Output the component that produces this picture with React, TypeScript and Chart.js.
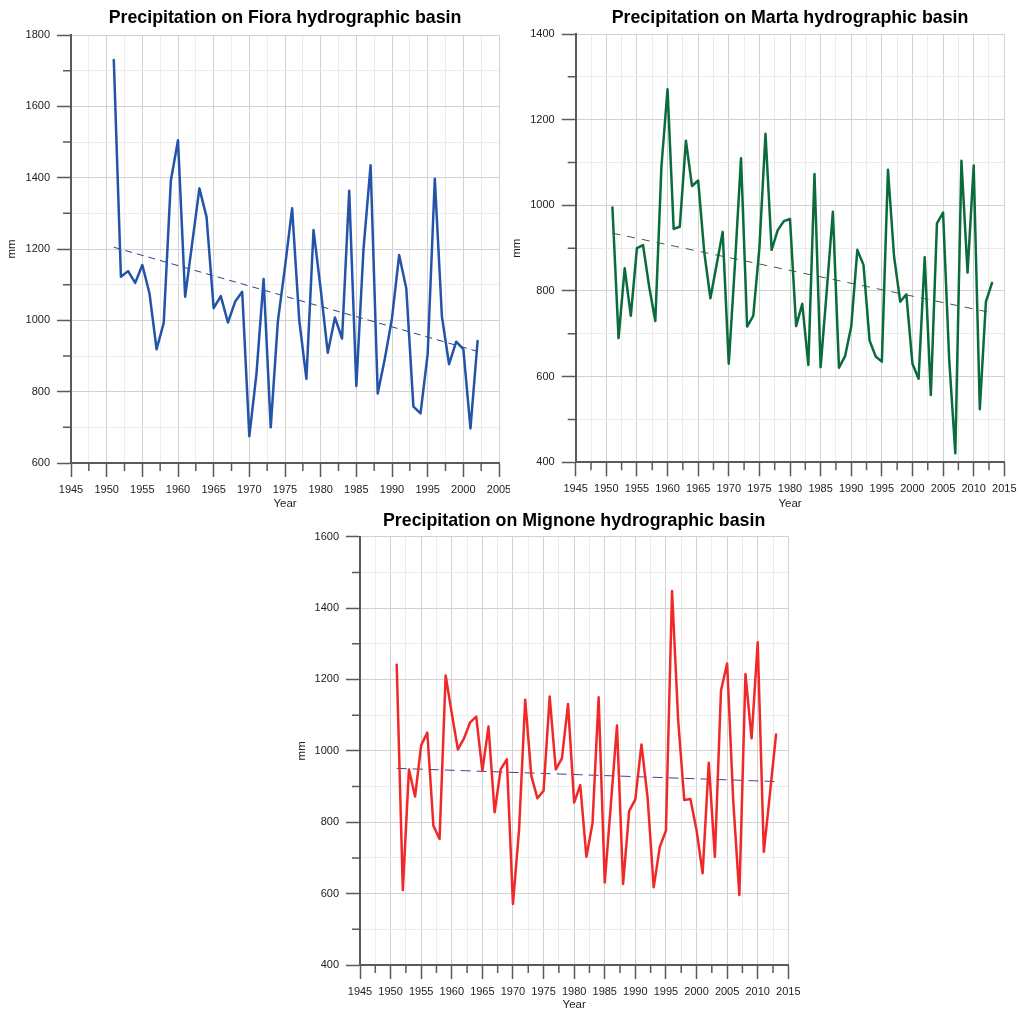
import React, { useEffect, useRef } from 'react';
import { Chart, registerables } from 'chart.js';

Chart.register(...registerables);

const FONT = "'Liberation Sans', Arial, Helvetica, sans-serif";
const AXIS = '#5a5a5a';
const TEXT = '#222222';
const GRID_MAJOR = '#d2d2d2';
const GRID_MINOR = '#ececec';

// ---------- data ----------
const fioraYears = [
  1951, 1952, 1953, 1954, 1955, 1956, 1957, 1958, 1959, 1960,
  1961, 1962, 1963, 1964, 1965, 1966, 1967, 1968, 1969, 1970,
  1971, 1972, 1973, 1974, 1975, 1976, 1977, 1978, 1979, 1980,
  1981, 1982, 1983, 1984, 1985, 1986, 1987, 1988, 1989, 1990,
  1991, 1992, 1993, 1994, 1995, 1996, 1997, 1998, 1999, 2000,
  2001, 2002,
];
const fioraValues = [
  1730, 1122, 1138, 1105, 1155, 1076, 919, 993, 1392, 1505,
  1066, 1218, 1370, 1290, 1034, 1068, 994, 1052, 1080, 675,
  850, 1116, 700, 997, 1150, 1314, 1000, 836, 1253, 1088,
  909, 1008, 949, 1363, 816, 1198, 1435, 795, 893, 1006,
  1183, 1090, 758, 739, 905, 1397, 1010, 877, 940, 919,
  697, 942,
];
const fioraTrendYears = [1951, 2002];
const fioraTrendValues = [1205, 913];

const martaMignoneYears = [
  1951, 1952, 1953, 1954, 1955, 1956, 1957, 1958, 1959, 1960,
  1961, 1962, 1963, 1964, 1965, 1966, 1967, 1968, 1969, 1970,
  1971, 1972, 1973, 1974, 1975, 1976, 1977, 1978, 1979, 1980,
  1981, 1982, 1983, 1984, 1985, 1986, 1987, 1988, 1989, 1990,
  1991, 1992, 1993, 1994, 1995, 1996, 1997, 1998, 1999, 2000,
  2001, 2002, 2003, 2004, 2005, 2006, 2007, 2008, 2009, 2010,
  2011, 2012, 2013,
];
const martaValues = [
  995, 690, 853, 742, 900, 907, 810, 730, 1090, 1271,
  945, 950, 1151, 1045, 1058, 890, 783, 860, 938, 630,
  860, 1110, 717, 742, 900, 1167, 896, 942, 963, 968,
  718, 770, 627, 1073, 622, 800, 985, 621, 648, 717,
  896, 861, 684, 647, 635, 1083, 880, 775, 792, 630,
  595, 879, 557, 958, 983, 640, 421, 1104, 843, 1093,
  524, 775, 819,
];
const martaTrendYears = [1951, 2013];
const martaTrendValues = [935, 749];

const mignoneValues = [
  1241, 610, 948, 872, 1016, 1051, 790, 753, 1211, 1105,
  1004, 1035, 1080, 1096, 944, 1068, 828, 949, 976, 571,
  780, 1143, 930, 867, 888, 1152, 948, 979, 1131, 855,
  904, 703, 797, 1150, 631, 850, 1071, 627, 832, 864,
  1018, 870, 618, 731, 776, 1448, 1086, 862, 865, 778,
  657, 967, 703, 1169, 1245, 860, 596, 1215, 1035, 1304,
  717, 880, 1046,
];
const mignoneTrendYears = [1951, 2013];
const mignoneTrendValues = [951, 914];

const fioraYRange = [600, 1800];
const martaYRange = [400, 1400];
const mignoneYRange = [400, 1600];
const fioraXRange = [1945, 2005];
const martaXRange = [1945, 2015];
const mignoneXRange = [1945, 2015];

// ---------- layout ----------
type Panel = {
  id: string;
  title: string;
  years: number[];
  values: number[];
  trendYears: number[];
  trendValues: number[];
  xRange: number[];
  yRange: number[];
  color: string;
  trendColor: string;
  dash: number[];
  canvas: { left: number; top: number; w: number; h: number };
  area: { l: number; t: number; r: number; b: number };
  titleY: number;
  yearY: number;
};

const panels: Panel[] = [
  {
    id: 'fiora',
    title: 'Precipitation on Fiora hydrographic basin',
    years: fioraYears,
    values: fioraValues,
    trendYears: fioraTrendYears,
    trendValues: fioraTrendValues,
    xRange: fioraXRange,
    yRange: fioraYRange,
    color: 'rgb(36, 84, 168)',
    trendColor: 'rgb(50, 60, 140)',
    dash: [7, 5],
    canvas: { left: 0, top: 0, w: 510, h: 515 },
    area: { l: 71, t: 35, r: 499, b: 463 },
    titleY: 18.5,
    yearY: 504,
  },
  {
    id: 'marta',
    title: 'Precipitation on Marta hydrographic basin',
    years: martaMignoneYears,
    values: martaValues,
    trendYears: martaTrendYears,
    trendValues: martaTrendValues,
    xRange: martaXRange,
    yRange: martaYRange,
    color: 'rgb(10, 108, 60)',
    trendColor: 'rgb(80, 80, 80)',
    dash: [8, 7],
    canvas: { left: 505, top: 0, w: 514, h: 515 },
    area: { l: 575.7, t: 34, r: 1004.3, b: 462.3 },
    titleY: 18,
    yearY: 503.5,
  },
  {
    id: 'mignone',
    title: 'Precipitation on Mignone hydrographic basin',
    years: martaMignoneYears,
    values: mignoneValues,
    trendYears: mignoneTrendYears,
    trendValues: mignoneTrendValues,
    xRange: mignoneXRange,
    yRange: mignoneYRange,
    color: 'rgb(240, 40, 40)',
    trendColor: 'rgb(60, 70, 150)',
    dash: [10, 6],
    canvas: { left: 290, top: 500, w: 510, h: 510 },
    area: { l: 360, t: 536.7, r: 788.3, b: 965 },
    titleY: 521,
    yearY: 1004.5,
  },
];

const isMajorX = (v: number) => Math.abs(v / 5 - Math.round(v / 5)) < 1e-6;
const isMajorY = (v: number) => Math.abs(v / 200 - Math.round(v / 200)) < 1e-6;

const minorTicksPlugin = {
  id: 'minorTicks',
  afterDraw(chart: any) {
    const ctx = chart.ctx;
    const xs = chart.scales.x;
    const ys = chart.scales.y;
    const area = chart.chartArea;
    ctx.save();
    ctx.strokeStyle = AXIS;
    ctx.lineWidth = 1.5;
    ctx.beginPath();
    xs.ticks.forEach((t: any) => {
      if (!isMajorX(t.value)) {
        const px = xs.getPixelForValue(t.value);
        ctx.moveTo(px, area.bottom);
        ctx.lineTo(px, area.bottom + 8);
      }
    });
    ys.ticks.forEach((t: any) => {
      if (!isMajorY(t.value)) {
        const py = ys.getPixelForValue(t.value);
        ctx.moveTo(area.left, py);
        ctx.lineTo(area.left - 8, py);
      }
    });
    ctx.stroke();
    ctx.restore();
  },
};

function PanelChart({ cfg }: { cfg: Panel }) {
  const ref = useRef<HTMLCanvasElement>(null);
  useEffect(() => {
    const c = cfg;
    const titleSize = 17.8;
    const titleLH = titleSize * 1.2;
    const tPadTop = c.titleY - c.canvas.top - titleLH / 2;
    const tPadBottom = c.area.t - c.canvas.top - tPadTop - titleLH;
    const yW = c.area.l - c.canvas.left;
    const xH = c.canvas.top + c.canvas.h - c.area.b;
    const padRight = c.canvas.left + c.canvas.w - c.area.r;
    const axisTitleSize = 11.5;
    const yearPadBottom = c.canvas.top + c.canvas.h - c.yearY - axisTitleSize / 2;

    const chart = new Chart(ref.current as HTMLCanvasElement, {
      type: 'line',
      data: {
        datasets: [
          {
            data: c.years.map((x, i) => ({ x, y: c.values[i] })),
            borderColor: c.color,
            borderWidth: 2.5,
            borderJoinStyle: 'round',
            borderCapStyle: 'round',
            pointRadius: 0,
            tension: 0,
            fill: false,
            order: 1,
          },
          {
            data: c.trendYears.map((x, i) => ({ x, y: c.trendValues[i] })),
            borderColor: c.trendColor,
            borderWidth: 1,
            borderDash: c.dash,
            pointRadius: 0,
            tension: 0,
            fill: false,
            order: 2,
          },
        ],
      },
      options: {
        responsive: false,
        animation: false,
        devicePixelRatio: 1,
        layout: { padding: { left: 0, right: padRight, top: 0, bottom: 0 } },
        plugins: {
          legend: { display: false },
          tooltip: { enabled: false },
          title: {
            display: true,
            text: c.title,
            fullSize: false,
            color: '#000000',
            font: { family: FONT, size: titleSize, weight: 'bold', lineHeight: 1.2 },
            padding: { top: tPadTop, bottom: tPadBottom },
          },
        },
        scales: {
          x: {
            type: 'linear',
            min: c.xRange[0],
            max: c.xRange[1],
            ticks: {
              stepSize: 2.5,
              autoSkip: false,
              maxRotation: 0,
              minRotation: 0,
              padding: 6,
              color: TEXT,
              font: { family: FONT, size: 11 },
              callback: (v: any) => (isMajorX(Number(v)) ? String(Math.round(Number(v))) : ''),
            },
            grid: {
              color: (ctx: any) => (ctx.tick && isMajorX(ctx.tick.value) ? GRID_MAJOR : GRID_MINOR),
              lineWidth: 1,
              tickLength: 14,
              tickWidth: 1.5,
              tickColor: (ctx: any) => (ctx.tick && isMajorX(ctx.tick.value) ? AXIS : 'rgba(0,0,0,0)'),
            },
            border: { color: AXIS, width: 2 },
            title: {
              display: true,
              text: 'Year',
              color: TEXT,
              font: { family: FONT, size: axisTitleSize, lineHeight: 1 },
              padding: { top: 0, bottom: yearPadBottom },
            },
            afterFit: (s: any) => {
              s.height = xH;
              s.paddingLeft = 0;
              s.paddingRight = 0;
            },
          },
          y: {
            type: 'linear',
            min: c.yRange[0],
            max: c.yRange[1],
            ticks: {
              stepSize: 100,
              autoSkip: false,
              padding: 7,
              color: TEXT,
              font: { family: FONT, size: 11 },
              callback: (v: any) => (isMajorY(Number(v)) ? String(Math.round(Number(v))) : ''),
            },
            grid: {
              color: (ctx: any) => (ctx.tick && isMajorY(ctx.tick.value) ? GRID_MAJOR : GRID_MINOR),
              lineWidth: 1,
              tickLength: 14,
              tickWidth: 1.5,
              tickColor: (ctx: any) => (ctx.tick && isMajorY(ctx.tick.value) ? AXIS : 'rgba(0,0,0,0)'),
            },
            border: { color: AXIS, width: 2 },
            title: {
              display: true,
              text: 'mm',
              color: TEXT,
              font: { family: FONT, size: axisTitleSize, lineHeight: 1 },
              padding: { top: 12 - axisTitleSize / 2, bottom: 0 },
            },
            afterFit: (s: any) => {
              s.width = yW;
              s.paddingTop = 0;
              s.paddingBottom = 0;
            },
          },
        },
      },
      plugins: [minorTicksPlugin],
    } as any);
    return () => chart.destroy();
  }, [cfg]);

  return (
    <canvas
      ref={ref}
      width={cfg.canvas.w}
      height={cfg.canvas.h}
      style={{
        position: 'absolute',
        left: cfg.canvas.left,
        top: cfg.canvas.top,
        width: cfg.canvas.w,
        height: cfg.canvas.h,
      }}
    />
  );
}

export default function App() {
  return (
    <div
      style={{
        position: 'absolute',
        left: 0,
        top: 0,
        width: 1019,
        height: 1010,
        overflow: 'hidden',
        background: '#ffffff',
      }}
    >
      {panels.map((p) => (
        <PanelChart key={p.id} cfg={p} />
      ))}
    </div>
  );
}
